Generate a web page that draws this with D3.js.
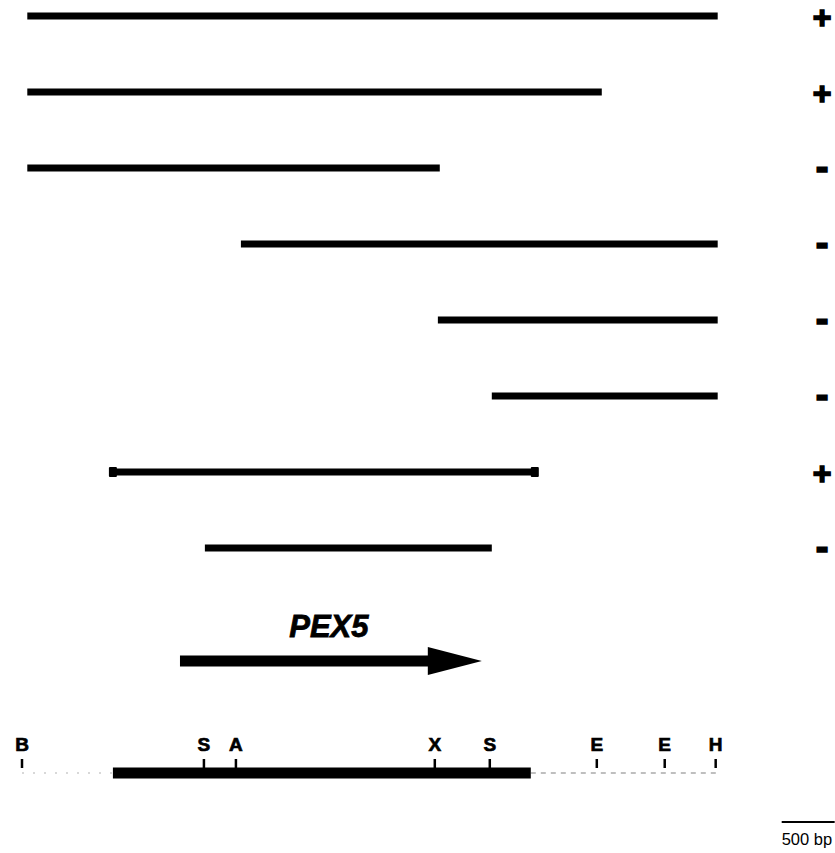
<!DOCTYPE html>
<html lang="en">
<meta charset="UTF-8">
<style>
    body { margin: 0; background: #fff; }
    text { font-family: "Liberation Sans", Arial, sans-serif; }
</style>
<body>
<svg id="chart" width="835" height="853"></svg>
<script src="https://d3js.org/d3.v7.min.js"></script>
<script>
// clone fragments (bp), complementation result
const fragStart = [50, 50, 50, 2066, 3925, 4434, 858, 1726];
const fragEnd   = [6566, 5472, 3943, 6566, 6566, 6566, 4840, 4434];
const fragResult = ['+', '+', '-', '-', '-', '-', '+', '-'];
const fragCapped = [false, false, false, false, false, false, true, false];

// restriction sites
const siteNames = ['B', 'S', 'A', 'X', 'S', 'E', 'E', 'H'];
const sitePos   = [0, 1717, 2019, 3896, 4415, 5425, 6066, 6547];

// gene / ORF
const geneName = 'PEX5';
const orfStart = 858, orfEnd = 4802;
const arrowStart = 1491, arrowEnd = 4340;
const scaleBarStart = 7170, scaleBarLen = 500;

const svg = d3.select('#chart');

const x = d3.scaleLinear().domain([0, 6550]).range([22, 716]);
const y = d3.scalePoint().domain(d3.range(fragStart.length)).range([16, 548]);

// fragments
const frags = fragStart.map((s, i) => ({s: s, e: fragEnd[i], r: fragResult[i], cap: fragCapped[i], i: i}));

svg.append('g').selectAll('rect').data(frags)
    .enter().append('rect')
    .attr('x', d => x(d.s))
    .attr('y', d => y(d.i) - 3.5)
    .attr('width', d => x(d.e) - x(d.s))
    .attr('height', 7)
    .attr('fill', '#000');

// end caps on the capped fragment
frags.filter(d => d.cap).forEach(d => {
    [d.s, d.e].forEach(p => {
        svg.append('rect')
            .attr('x', x(p) - 4)
            .attr('y', y(d.i) - 5)
            .attr('width', 8)
            .attr('height', 10)
            .attr('rx', 1)
            .attr('fill', '#000');
    });
});

// +/- signs
svg.append('g').selectAll('text').data(frags)
    .enter().append('text')
    .attr('x', 822)
    .attr('y', d => y(d.i) + 12)
    .attr('text-anchor', 'middle')
    .attr('font-weight', 'bold')
    .attr('font-size', d => d.r === '+' ? '32px' : '38px')
    .attr('stroke', '#000')
    .attr('stroke-width', 1.6)
    .text(d => d.r);

// PEX5 label + arrow
svg.append('text')
    .attr('x', (x(arrowStart) + x(arrowEnd)) / 2 - 2)
    .attr('y', 637)
    .attr('text-anchor', 'middle')
    .attr('font-weight', 'bold')
    .attr('font-style', 'italic')
    .attr('font-size', '31px')
    .attr('stroke', '#000')
    .attr('stroke-width', 0.8)
    .text(geneName);

const ay = 661;
const headLen = 54;
svg.append('rect')
    .attr('x', x(arrowStart))
    .attr('y', ay - 5.5)
    .attr('width', x(arrowEnd) - headLen - x(arrowStart) + 4)
    .attr('height', 11)
    .attr('fill', '#000');
svg.append('path')
    .attr('d', d3.line()([
        [x(arrowEnd) - headLen, ay - 14],
        [x(arrowEnd), ay],
        [x(arrowEnd) - headLen, ay + 14]
    ]) + 'Z')
    .attr('fill', '#000');

// restriction map
const mapY = 773;
svg.append('line')
    .attr('x1', x(0)).attr('x2', x(orfStart))
    .attr('y1', mapY).attr('y2', mapY)
    .attr('stroke', '#ccc')
    .attr('stroke-width', 1.5)
    .attr('stroke-dasharray', '2,9');
svg.append('line')
    .attr('x1', x(orfEnd)).attr('x2', x(6550))
    .attr('y1', mapY).attr('y2', mapY)
    .attr('stroke', '#aaa')
    .attr('stroke-width', 1.5)
    .attr('stroke-dasharray', '5,5');
svg.append('rect')
    .attr('x', x(orfStart))
    .attr('y', mapY - 5.5)
    .attr('width', x(orfEnd) - x(orfStart))
    .attr('height', 11)
    .attr('fill', '#000');

const sites = siteNames.map((n, i) => ({n: n, p: sitePos[i]}));
svg.append('g').selectAll('line').data(sites)
    .enter().append('line')
    .attr('x1', d => x(d.p)).attr('x2', d => x(d.p))
    .attr('y1', 759).attr('y2', 768)
    .attr('stroke', '#000')
    .attr('stroke-width', 2.5);
svg.append('g').selectAll('text').data(sites)
    .enter().append('text')
    .attr('x', d => x(d.p))
    .attr('y', 751)
    .attr('text-anchor', 'middle')
    .attr('font-weight', 'bold')
    .attr('font-size', '19px')
    .attr('stroke', '#000')
    .attr('stroke-width', 0.7)
    .text(d => d.n);

// scale bar
svg.append('line')
    .attr('x1', x(scaleBarStart)).attr('x2', x(scaleBarStart + scaleBarLen))
    .attr('y1', 822).attr('y2', 822)
    .attr('stroke', '#000')
    .attr('stroke-width', 2);
svg.append('text')
    .attr('x', x(scaleBarStart))
    .attr('y', 845)
    .attr('font-size', '16.5px')
    .text('500 bp');
</script>
</body>
</html>
